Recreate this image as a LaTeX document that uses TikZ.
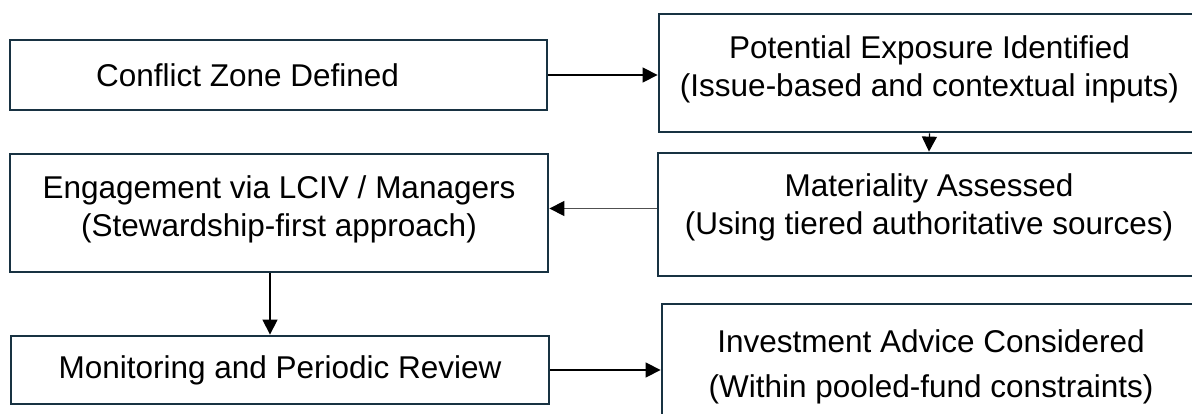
\documentclass[tikz,border=0pt]{standalone}
\usepackage{fontspec}
\setmainfont{Liberation Sans}
\usepackage{tikz}
\usetikzlibrary{calc}
\usetikzlibrary{arrows.meta}
\definecolor{boxline}{RGB}{24,50,66}
\definecolor{linkgray}{RGB}{80,80,80}
\tikzstyle{every node}=[font=\fontsize{31.5}{38}\selectfont]
\tikzset{stepbox/.style={draw=boxline,line width=2.8pt,fill=white,align=center,inner sep=0pt},
         link/.style={->,line width=1.3pt,color=black}}

\begin{document}
\begin{tikzpicture}[line cap=butt,>={Triangle[length=15pt,width=15pt,color=black]},x=1pt,y=-1pt]
            \clip(0,0) rectangle (1192,414);
            % left column
            \node [stepbox,minimum width=537pt,minimum height=70pt] (zone) at (278.5,75) {\hspace*{-62pt}Conflict Zone Defined};
            \node [stepbox,minimum width=538pt,minimum height=118pt,text depth=14pt] (engage) at (279,213) {Engagement via LCIV / Managers\\(Stewardship-first approach)};
            \node [stepbox,minimum width=538pt,minimum height=68pt] (monitor) at (280,370) {Monitoring and Periodic Review};
            % right column
            \node [stepbox,minimum width=541pt,minimum height=118pt,text depth=14pt] (exposure) at (929.5,73) {Potential Exposure Identified\\(Issue-based and contextual inputs)};
            \node [stepbox,minimum width=542pt,minimum height=123pt,text depth=21pt] (material) at (929,214.5) {Materiality Assessed\\(Using tiered authoritative sources)};
            \node [stepbox,minimum width=538pt,minimum height=126pt] (advice) at (931,367) {Investment Advice Considered\\[7pt](Within pooled-fund constraints)};
            % links
            \draw [link] (zone.east) -- (zone.east -| exposure.west);
            \draw [link] (exposure.south) -- (material.north);
            \draw [link,color=linkgray] ([yshift=6pt]material.west) -- ([yshift=6pt]material.west -| engage.east);
            \draw [link] ([xshift=-9pt]engage.south) -- ([xshift=-9pt]engage.south |- monitor.north);
            \draw [link] (monitor.east) -- (monitor.east -| advice.west);
\end{tikzpicture}
\end{document}
